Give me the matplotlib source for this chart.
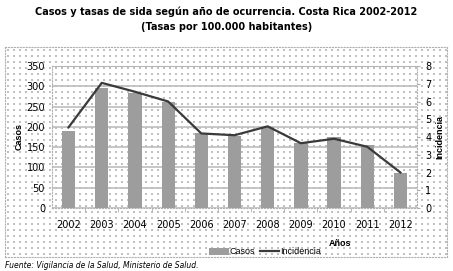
import matplotlib
matplotlib.use("Agg")
import numpy as np
import matplotlib.pyplot as plt
from matplotlib.lines import Line2D
from matplotlib.patches import Patch

# datos
anios = ["2002", "2003", "2004", "2005", "2006", "2007", "2008", "2009", "2010", "2011", "2012"]
casos = [190, 296, 283, 261, 185, 178, 200, 160, 175, 155, 87]
incidencia = [4.55, 7.05, 6.55, 6.0, 4.2, 4.1, 4.6, 3.65, 3.9, 3.45, 2.0]
ticks_casos = [0, 50, 100, 150, 200, 250, 300, 350]
ticks_inc = [0, 1, 2, 3, 4, 5, 6, 7, 8]

narrow = ["DejaVu Sans"]
sans = ["Liberation Sans", "DejaVu Sans"]

fig = plt.figure(figsize=(4.53, 2.71), dpi=100)
W, H = 453, 271

# caja del grafico con fondo punteado (decorativo)
bg = fig.add_axes([5 / W, 1 - 257 / H, 442 / W, 210 / H], zorder=-5)
gx, gy = np.meshgrid(np.arange(3, 442, 6), np.arange(3, 210, 6))
bg.scatter(gx.ravel(), gy.ravel(), s=0.9, color="#c0c0c0", marker="s", lw=0)
bg.set_xlim(0, 442)
bg.set_ylim(0, 210)
bg.set_xticks([])
bg.set_yticks([])
for s in bg.spines.values():
    s.set_color("#b0b0b0")
    s.set_linestyle(":")
    s.set_linewidth(0.8)

fig.text(0.5, 1 - 12 / H, "Casos y tasas de sida según año de ocurrencia. Costa Rica 2002-2012",
         ha="center", va="center", fontsize=7, fontweight="bold", family=narrow)
fig.text(0.5, 1 - 27 / H, "(Tasas por 100.000 habitantes)",
         ha="center", va="center", fontsize=7, fontweight="bold", family=narrow)

ax = fig.add_axes([52 / W, 1 - 208 / H, 365 / W, 142 / H])
ax.set_facecolor("none")
x = list(range(len(anios)))
ax.bar(x, casos, width=0.4, color="#9d9d9d", edgecolor="none", zorder=2)
ax.set_ylim(0, 350)
ax.set_xlim(-0.5, len(anios) - 0.5)
ax.set_yticks(ticks_casos)
ax.set_xticks(x)
ax.set_xticklabels(anios, family=narrow, fontsize=7)
ax.tick_params(axis="x", length=0, pad=9)
ax.tick_params(axis="y", length=0, pad=5, labelsize=7)
for lab in ax.get_yticklabels():
    lab.set_family(narrow)
ax.set_xticks([i - 0.5 for i in range(1, len(anios))], minor=True)
ax.tick_params(axis="x", which="minor", length=3, color="#b0b0b0")
ax.yaxis.grid(True, color="#bdbdbd", lw=1.2, zorder=0)
ax.set_axisbelow(True)
for s in ax.spines.values():
    s.set_color("#b0b0b0")
    s.set_linestyle(":")
    s.set_linewidth(0.8)
ax.set_ylabel("Casos", family=sans, fontsize=6.5, fontweight="bold", labelpad=2)

ax2 = ax.twinx()
ax2.plot(x, incidencia, color="#3a3a3a", lw=1.6, zorder=3)
ax2.set_ylim(0, 8)
ax2.set_yticks(ticks_inc)
ax2.tick_params(axis="y", length=2, color="#b0b0b0", pad=4, labelsize=7)
for lab in ax2.get_yticklabels():
    lab.set_family(narrow)
for s in ax2.spines.values():
    s.set_visible(False)
ax2.set_ylabel("Incidencia", family=sans, fontsize=6.5, fontweight="bold", labelpad=3)

fig.text(340 / W, 1 - 243 / H, "Años", ha="center", va="center", fontsize=6.5,
         fontweight="bold", family=sans)

handles = [Patch(facecolor="#9d9d9d", edgecolor="none"),
           Line2D([0], [0], color="#3a3a3a", lw=1.6)]
fig.legend(handles, ["Casos", "Incidencia"], loc="center", bbox_to_anchor=(265 / W, 1 - 252 / H),
           ncol=2, frameon=False, prop={"family": sans, "size": 6.5}, handlelength=2.2,
           handletextpad=0.1, columnspacing=0.5, borderpad=0)

fig.text(5 / W, 1 - 266 / H, "Fuente: Vigilancia de la Salud, Ministerio de Salud.",
         ha="left", va="center", fontsize=5.5, style="italic", family=narrow)

fig.savefig("out.png", dpi=100)
